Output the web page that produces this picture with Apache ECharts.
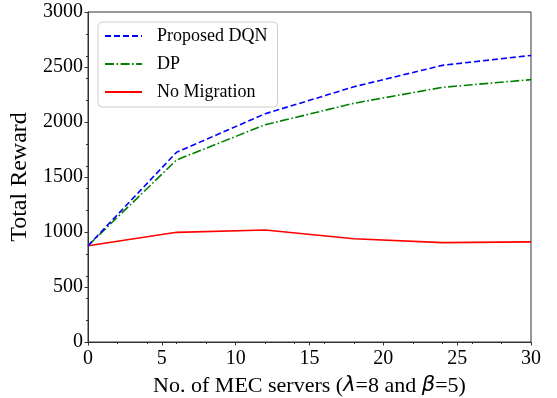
<!DOCTYPE html>
<html>
<head>
<meta charset="utf-8">
<script src="https://cdn.jsdelivr.net/npm/echarts@6/dist/echarts.min.js"></script>
<style>html,body{margin:0;padding:0;background:#fff}#c{width:557px;height:398px}</style>
</head>
<body>
<div id="c"></div>
<script>
const xValues = [0, 6, 12, 18, 24, 30];
const dqn = [875, 1725, 2075, 2320, 2515, 2605];
const dp = [875, 1655, 1975, 2170, 2315, 2385];
const noMig = [875, 997, 1018, 938, 903, 910];
const seriesNames = ['Proposed DQN', 'DP', 'No Migration'];

const F = 'Liberation Serif, Times New Roman, serif';
const pair = (arr) => xValues.map((x, i) => [x, arr[i]]);
const chart = echarts.init(document.getElementById('c'), null, {renderer: 'canvas'});
const axisCol = '#333';
const plain = (v) => String(v);
chart.setOption({
  animation: false,
  grid: {left: 88, right: 26, top: 12, bottom: 56, containLabel: false, outerBoundsMode: 'none',
    show: true, borderColor: axisCol, borderWidth: 1, backgroundColor: 'transparent'},
  legend: {
    orient: 'vertical', left: 98, top: 22,
    itemWidth: 37, itemHeight: 14, itemGap: 10,
    backgroundColor: 'rgba(255,255,255,0.85)', borderColor: '#cccccc', borderWidth: 1, borderRadius: 4,
    padding: [5, 10, 6, 6],
    itemStyle: {opacity: 0},
    textStyle: {fontFamily: F, fontSize: 18, color: '#000', padding: [0, 0, 0, 10]},
    data: seriesNames
  },
  xAxis: [{
    type: 'value', min: 0, max: 30, interval: 5, position: 'bottom',
    axisLine: {show: true, onZero: false, lineStyle: {color: axisCol, width: 1}},
    axisTick: {show: true, inside: false, length: 3.5, lineStyle: {color: axisCol}},
    axisLabel: {fontFamily: F, fontSize: 20, color: '#000', margin: 7, formatter: plain},
    splitLine: {show: false},
    name: '{t|No. of MEC servers (}{g|λ}{t|=8 and }{g|β}{t|=5)}',
    nameLocation: 'middle', nameGap: 33,
    nameTextStyle: {rich: {
      t: {fontFamily: F, fontSize: 22, color: '#000'},
      g: {fontFamily: 'DejaVu Sans', fontStyle: 'italic', fontSize: 21, color: '#000'}
    }}
  }, {
    type: 'value', min: 0, max: 30, interval: 2, position: 'bottom',
    axisLine: {show: false, onZero: false},
    axisTick: {show: true, inside: false, length: 2, lineStyle: {color: axisCol}},
    axisLabel: {show: false}, splitLine: {show: false}
  }],
  yAxis: [{
    type: 'value', min: 0, max: 3000, interval: 500, position: 'left',
    axisLine: {show: true, onZero: false, lineStyle: {color: axisCol, width: 1}},
    axisTick: {show: true, inside: false, length: 3.5, lineStyle: {color: axisCol}},
    axisLabel: {fontFamily: F, fontSize: 20, color: '#000', margin: 5, formatter: plain},
    splitLine: {show: false},
    name: 'Total Reward', nameLocation: 'middle', nameGap: 53, nameRotate: 90,
    nameTextStyle: {fontFamily: F, fontSize: 24, color: '#000'}
  }, {
    type: 'value', min: 0, max: 3000, interval: 200, position: 'left',
    axisLine: {show: false, onZero: false},
    axisTick: {show: true, inside: false, length: 2, lineStyle: {color: axisCol}},
    axisLabel: {show: false}, splitLine: {show: false}
  }],
  series: [{
    name: seriesNames[0], type: 'line', data: pair(dqn), symbol: 'none', z: 4,
    lineStyle: {color: '#0000ff', width: 1.6, type: [6, 3]}, itemStyle: {color: '#0000ff'}
  }, {
    name: seriesNames[1], type: 'line', data: pair(dp), symbol: 'none', z: 3,
    lineStyle: {color: '#008000', width: 1.6, type: [9, 2.5, 1.6, 2.5]}, itemStyle: {color: '#008000'}
  }, {
    name: seriesNames[2], type: 'line', data: pair(noMig), symbol: 'none', z: 2,
    lineStyle: {color: '#ff0000', width: 1.6, type: 'solid'}, itemStyle: {color: '#ff0000'}
  }]
});
</script>
</body>
</html>
